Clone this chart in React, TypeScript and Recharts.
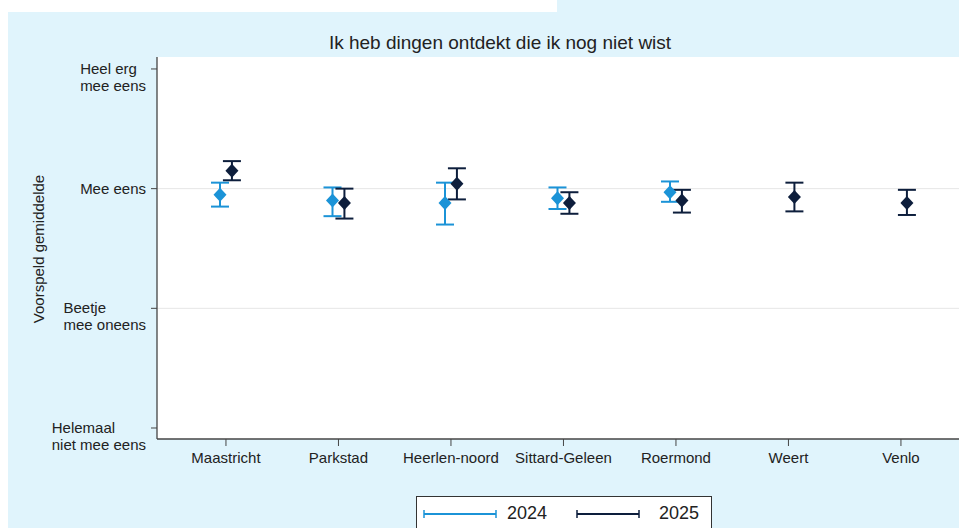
import React from "react";
import {
  ScatterChart,
  Scatter,
  XAxis,
  YAxis,
  ErrorBar,
  ReferenceLine,
  CartesianGrid,
} from "recharts";

const regions = ["Maastricht", "Parkstad", "Heerlen-noord", "Sittard-Geleen", "Roermond", "Weert", "Venlo"];

const mean2024 = [2.95, 2.9, 2.88, 2.92, 2.97, null, null];
const low2024 = [2.85, 2.77, 2.7, 2.83, 2.89, null, null];
const high2024 = [3.05, 3.01, 3.05, 3.01, 3.06, null, null];

const mean2025 = [3.15, 2.88, 3.04, 2.88, 2.9, 2.93, 2.88];
const low2025 = [3.07, 2.75, 2.91, 2.79, 2.8, 2.81, 2.78];
const high2025 = [3.23, 3.0, 3.17, 2.97, 2.99, 3.05, 2.99];

const yTicks = [1, 2, 3, 4];
const yLabels: Record<number, string[]> = {
  1: ["Helemaal", "niet mee eens"],
  2: ["Beetje", "mee oneens"],
  3: ["Mee eens"],
  4: ["Heel erg", "mee eens"],
};

const C2024 = "#1b93d7";
const C2025 = "#0d1e3c";
const BG = "#e0f4fc";
const FONT = "'Liberation Sans', Arial, sans-serif";
const DODGE = 0.053;

const build = (mean: (number | null)[], low: (number | null)[], high: (number | null)[], shift: number) =>
  mean
    .map((m, i) =>
      m == null
        ? null
        : { x: i + shift, y: m, err: [m - (low[i] as number), (high[i] as number) - m] }
    )
    .filter(Boolean) as { x: number; y: number; err: number[] }[];

const data2024 = build(mean2024, low2024, high2024, -DODGE);
const data2025 = build(mean2025, low2025, high2025, DODGE);

const Diamond = (color: string) => (props: any) => {
  const { cx, cy } = props;
  if (cx == null || cy == null) return <g />;
  return (
    <polygon
      points={`${cx},${cy - 7} ${cx + 6.5},${cy} ${cx},${cy + 7} ${cx - 6.5},${cy}`}
      fill={color}
    />
  );
};

function YTick(props: any) {
  const { x, y, payload } = props;
  const lines = yLabels[payload.value] || [];
  return (
    <foreignObject x={0} y={y - 9} width={x - 3} height={40}>
      <div
        style={{
          display: "flex",
          justifyContent: "flex-end",
          fontFamily: FONT,
          fontSize: 15,
          lineHeight: "17px",
          color: "#222",
        }}
      >
        <div style={{ textAlign: "left", whiteSpace: "nowrap" }}>
          {lines.map((l) => (
            <div key={l}>{l}</div>
          ))}
        </div>
      </div>
    </foreignObject>
  );
}

function LegendSample({ color, len }: { color: string; len: number }) {
  return (
    <svg width={len + 2} height={12} style={{ display: "block" }}>
      <line x1={1} y1={6} x2={len + 1} y2={6} stroke={color} strokeWidth={2} />
      <line x1={1} y1={2} x2={1} y2={10} stroke={color} strokeWidth={1.5} />
      <line x1={len + 1} y1={2} x2={len + 1} y2={10} stroke={color} strokeWidth={1.5} />
    </svg>
  );
}

export default function App() {
  return (
    <div style={{ position: "fixed", left: 0, top: 0, width: 959, height: 528, background: "#fff", overflow: "hidden" }}>
      <div style={{ position: "absolute", left: 8, top: 12, width: 951, height: 516, background: BG }} />
      <div style={{ position: "absolute", left: 557, top: 0, width: 402, height: 12, background: BG }} />

      <div
        style={{
          position: "absolute",
          left: 300,
          width: 400,
          top: 32,
          textAlign: "center",
          fontFamily: FONT,
          fontSize: 19,
          color: "#222",
        }}
      >
        Ik heb dingen ontdekt die ik nog niet wist
      </div>

      <div
        style={{
          position: "absolute",
          left: 38,
          top: 249,
          transform: "translate(-50%, -50%) rotate(-90deg)",
          fontFamily: FONT,
          fontSize: 15,
          color: "#222",
          whiteSpace: "nowrap",
        }}
      >
        Voorspeld gemiddelde
      </div>

      <div style={{ position: "absolute", left: 0, top: 0 }}>
        <ScatterChart width={959} height={528} margin={{ top: 57, right: 0, bottom: 59, left: 0 }}>
          <CartesianGrid fill="#fff" horizontal={false} vertical={false} stroke="none" />
          <XAxis
            type="number"
            dataKey="x"
            domain={[-0.613, 6.516]}
            ticks={[0, 1, 2, 3, 4, 5, 6]}
            allowDataOverflow
            height={30}
            tickFormatter={(v: number) => regions[v] ?? ""}
            tick={{ fontFamily: FONT, fontSize: 15, fill: "#222" }}
            tickSize={7}
            tickMargin={6}
            stroke="#444"
            axisLine={{ stroke: "#444", strokeWidth: 1.3 }}
            tickLine={{ stroke: "#444" }}
          />
          <YAxis
            type="number"
            dataKey="y"
            domain={[0.908, 4.1]}
            ticks={yTicks}
            allowDataOverflow
            width={157}
            tick={<YTick />}
            tickSize={6}
            axisLine={{ stroke: "#444", strokeWidth: 1.3 }}
            tickLine={{ stroke: "#444" }}
          />
          <ReferenceLine y={2} stroke="#e6e6e6" />
          <ReferenceLine y={3} stroke="#e6e6e6" />
          <Scatter data={data2024} shape={Diamond(C2024)} isAnimationActive={false}>
            <ErrorBar dataKey="err" direction="y" width={9} stroke={C2024} strokeWidth={2} isAnimationActive={false} />
          </Scatter>
          <Scatter data={data2025} shape={Diamond(C2025)} isAnimationActive={false}>
            <ErrorBar dataKey="err" direction="y" width={9} stroke={C2025} strokeWidth={2} isAnimationActive={false} />
          </Scatter>
        </ScatterChart>
      </div>

      <div
        style={{
          position: "absolute",
          left: 416,
          top: 496,
          width: 294,
          height: 40,
          background: "#fff",
          border: "1px solid #333",
          fontFamily: FONT,
          fontSize: 18,
          color: "#222",
        }}
      >
        <div style={{ position: "absolute", left: 6, top: 11 }}>
          <LegendSample color={C2024} len={72} />
        </div>
        <div style={{ position: "absolute", left: 90, top: 6 }}>2024</div>
        <div style={{ position: "absolute", left: 159, top: 11 }}>
          <LegendSample color={C2025} len={62} />
        </div>
        <div style={{ position: "absolute", left: 242, top: 6 }}>2025</div>
      </div>
    </div>
  );
}
